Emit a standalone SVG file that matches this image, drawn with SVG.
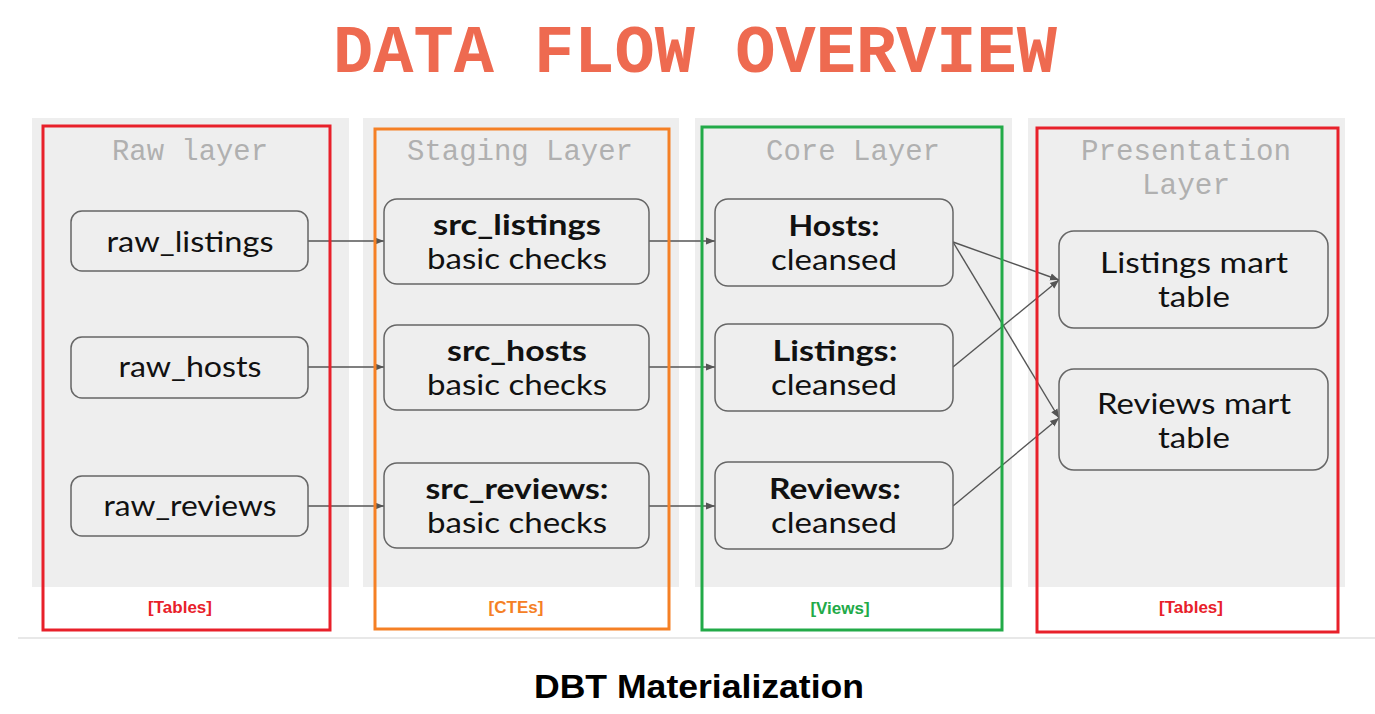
<svg xmlns="http://www.w3.org/2000/svg" width="1375" height="714" viewBox="0 0 1375 714">
<defs>
<marker id="arr" viewBox="0 0 10 10" refX="10" refY="5" markerWidth="9" markerHeight="9" markerUnits="userSpaceOnUse" orient="auto">
<path d="M0,1 L10,5 L0,9 z" fill="#555"/>
</marker>
</defs>
<style>
.lane{fill:#eeeeee}
.frame{fill:none;stroke-width:3}
.lt{font-family:"Liberation Mono","DejaVu Sans Mono",monospace;font-size:29px;fill:#b0b0b0;text-anchor:middle}
.node rect{fill:#eeeeee;stroke:#666;stroke-width:1.5}
.nt{font-family:Lato,"Noto Sans",sans-serif;font-size:28px;fill:#111;text-anchor:middle}
.b{font-weight:bold}
.conn line{stroke:#555;stroke-width:1.4;marker-end:url(#arr)}
.tag{font-family:"Liberation Sans",Arial,sans-serif;font-size:17px;font-weight:bold;text-anchor:middle}
</style>
<rect width="1375" height="714" fill="#fff"/>
<text x="695" y="72" font-family="Liberation Mono,DejaVu Sans Mono,monospace" font-size="68" font-weight="bold" fill="#ee6a50" text-anchor="middle" textLength="724" lengthAdjust="spacingAndGlyphs">DATA FLOW OVERVIEW</text>

<g id="lanes">
<rect class="lane" x="32" y="118" width="317" height="469"/>
<rect class="lane" x="363" y="118" width="316" height="469"/>
<rect class="lane" x="695" y="118" width="317" height="469"/>
<rect class="lane" x="1028" y="118" width="317" height="469"/>
<text class="lt" x="190" y="160" textLength="156" lengthAdjust="spacingAndGlyphs">Raw layer</text>
<text class="lt" x="520" y="160" textLength="226" lengthAdjust="spacingAndGlyphs">Staging Layer</text>
<text class="lt" x="853" y="160" textLength="174" lengthAdjust="spacingAndGlyphs">Core Layer</text>
<text class="lt" x="1186" y="160" textLength="210" lengthAdjust="spacingAndGlyphs">Presentation</text>
<text class="lt" x="1186" y="194" textLength="88" lengthAdjust="spacingAndGlyphs">Layer</text>
</g>

<g id="connectors" class="conn">
<line x1="308" y1="241" x2="384" y2="241"/>
<line x1="308" y1="367" x2="384" y2="367"/>
<line x1="308" y1="506" x2="384" y2="506"/>
<line x1="649" y1="241" x2="715" y2="241"/>
<line x1="649" y1="367" x2="715" y2="367"/>
<line x1="649" y1="506" x2="715" y2="506"/>
<line x1="953" y1="242" x2="1059" y2="280"/>
<line x1="953" y1="242" x2="1059" y2="418"/>
<line x1="953" y1="367" x2="1059" y2="280"/>
<line x1="953" y1="506" x2="1059" y2="418"/>
</g>

<g id="raw_listings" class="node"><rect x="71" y="211" width="237" height="60" rx="11"/><text class="nt" x="190" y="252" textLength="167" lengthAdjust="spacingAndGlyphs">raw_listings</text></g>
<g id="raw_hosts" class="node"><rect x="71" y="337" width="237" height="61" rx="11"/><text class="nt" x="190" y="377" textLength="143" lengthAdjust="spacingAndGlyphs">raw_hosts</text></g>
<g id="raw_reviews" class="node"><rect x="71" y="476" width="237" height="60" rx="11"/><text class="nt" x="190" y="516" textLength="173" lengthAdjust="spacingAndGlyphs">raw_reviews</text></g>

<g id="src_listings" class="node"><rect x="384" y="199" width="265" height="85" rx="13"/><text class="nt b" x="517" y="235" textLength="168" lengthAdjust="spacingAndGlyphs">src_listings</text><text class="nt" x="517" y="269" textLength="180" lengthAdjust="spacingAndGlyphs">basic checks</text></g>
<g id="src_hosts" class="node"><rect x="384" y="325" width="265" height="85" rx="13"/><text class="nt b" x="517" y="361" textLength="140" lengthAdjust="spacingAndGlyphs">src_hosts</text><text class="nt" x="517" y="395" textLength="180" lengthAdjust="spacingAndGlyphs">basic checks</text></g>
<g id="src_reviews" class="node"><rect x="384" y="463" width="265" height="85" rx="13"/><text class="nt b" x="517" y="499" textLength="183" lengthAdjust="spacingAndGlyphs">src_reviews:</text><text class="nt" x="517" y="533" textLength="180" lengthAdjust="spacingAndGlyphs">basic checks</text></g>

<g id="hosts" class="node"><rect x="715" y="199" width="238" height="87" rx="13"/><text class="nt b" x="834" y="236" textLength="91" lengthAdjust="spacingAndGlyphs">Hosts:</text><text class="nt" x="834" y="270" textLength="126" lengthAdjust="spacingAndGlyphs">cleansed</text></g>
<g id="listings" class="node"><rect x="715" y="324" width="238" height="87" rx="13"/><text class="nt b" x="835" y="361" textLength="125" lengthAdjust="spacingAndGlyphs">Listings:</text><text class="nt" x="834" y="395" textLength="126" lengthAdjust="spacingAndGlyphs">cleansed</text></g>
<g id="reviews" class="node"><rect x="715" y="462" width="238" height="87" rx="13"/><text class="nt b" x="835" y="499" textLength="132" lengthAdjust="spacingAndGlyphs">Reviews:</text><text class="nt" x="834" y="533" textLength="126" lengthAdjust="spacingAndGlyphs">cleansed</text></g>

<g id="listings_mart" class="node"><rect x="1059" y="231" width="269" height="97" rx="15"/><text class="nt" x="1194" y="273" textLength="188" lengthAdjust="spacingAndGlyphs">Listings mart</text><text class="nt" x="1194" y="307" textLength="72" lengthAdjust="spacingAndGlyphs">table</text></g>
<g id="reviews_mart" class="node"><rect x="1059" y="369" width="269" height="101" rx="15"/><text class="nt" x="1194" y="414" textLength="194" lengthAdjust="spacingAndGlyphs">Reviews mart</text><text class="nt" x="1194" y="448" textLength="72" lengthAdjust="spacingAndGlyphs">table</text></g>

<g id="frames">
<rect class="frame" x="43" y="126" width="287" height="504" stroke="#e8202a"/>
<rect class="frame" x="375" y="129" width="294" height="500" stroke="#f58025"/>
<rect class="frame" x="702" y="127" width="300" height="503" stroke="#22aa48"/>
<rect class="frame" x="1037" y="128" width="301" height="504" stroke="#e8202a"/>
<text class="tag" x="180" y="613" fill="#e8202a">[Tables]</text>
<text class="tag" x="516" y="613" fill="#f58025">[CTEs]</text>
<text class="tag" x="840" y="614" fill="#22aa48">[Views]</text>
<text class="tag" x="1191" y="613" fill="#e8202a">[Tables]</text>
</g>

<line x1="18" y1="638" x2="1375" y2="638" stroke="#e8e8e8" stroke-width="2"/>
<text x="699" y="698" font-family="Liberation Sans,Arial,sans-serif" font-size="33" font-weight="bold" fill="#000" text-anchor="middle" textLength="330" lengthAdjust="spacingAndGlyphs">DBT Materialization</text>
</svg>
